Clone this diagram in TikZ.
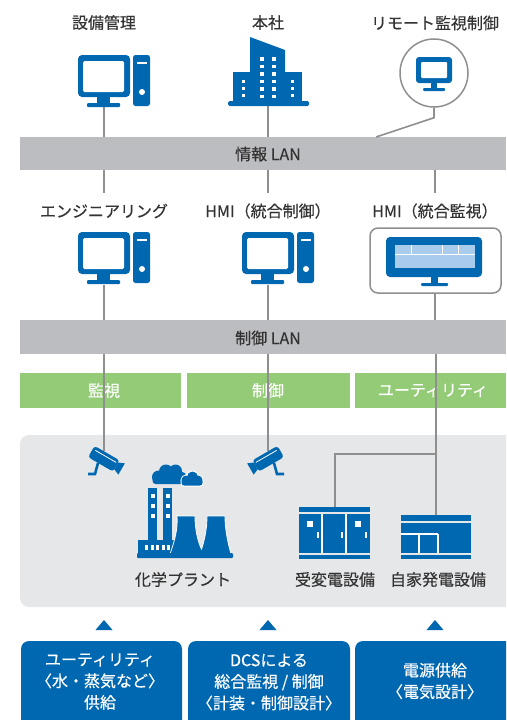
\documentclass[tikz,border=0pt]{standalone}
\usepackage{fontspec}
\newfontfamily\jpfont[FakeBold=0.4]{Noto Sans CJK JP}
\usetikzlibrary{calc}
\definecolor{brand}{HTML}{0067B1}
\definecolor{screen}{HTML}{A9CCEC}
\definecolor{langray}{HTML}{BCBDC0}
\definecolor{leaf}{HTML}{93CB77}
\definecolor{panel}{HTML}{E6E7E8}
\definecolor{linegray}{HTML}{8F8F8F}
\definecolor{ink}{HTML}{333333}
\begin{document}
\begin{tikzpicture}[x=1pt,y=-1pt,
  font=\jpfont\fontsize{16}{21.5}\selectfont,
  link/.style={draw=linegray, line width=1.6pt},
  iconbox/.style={inner sep=0pt, outer sep=0pt, draw=none},
  lbl/.style={text=ink, inner sep=0pt},
  midlbl/.style={text=ink, inner sep=0pt, minimum height=36pt},
  lanbar/.style={fill=langray, inner sep=0pt, outer sep=0pt, minimum height=34pt, minimum width=486pt},
  greenbar/.style={fill=leaf, inner sep=0pt, outer sep=0pt, minimum height=35pt},
  bartext/.style={text=white, inner sep=0pt},
  bluebox/.style={fill=brand, rounded corners=8pt, inner sep=0pt, outer sep=0pt, anchor=north west},
  boxtext/.style={text=white, align=center, inner sep=0pt},
  pc/.pic={
    \fill[brand, rounded corners=4pt] (-26,0) rectangle (26,42);
    \fill[white, rounded corners=1.5pt] (-21,6) rectangle (20,37);
    \fill[brand] (-7,42) rectangle (6,48);
    \fill[brand, rounded corners=1pt] (-17,48) rectangle (16,52);
    \fill[brand, rounded corners=2.5pt] (29,0) rectangle (46,51);
    \fill[white] (33,7) rectangle (43,9);
    \fill[white] (38,37) circle (3pt);
  },
  camera/.pic={
    \begin{scope}[shift={(2,10)}, rotate=-30]
      \fill[brand, rounded corners=3pt] (-17,-6.5) rectangle (12,6.5);
      \draw[white, line width=0.8pt] (-14,-3) -- (10,-3);
      \fill[brand] (12,-4) -- (18,-6.5) -- (18,6.5) -- (12,4) -- cycle;
    \end{scope}
    \draw[brand, line width=2.6pt] (-6,13) -- (-9,24) -- (-16,24);
  }
]
\useasboundingbox (0,0) rectangle (506,720);

% ---------- background panel and bottom boxes ----------
\begin{scope}
  \clip (0,0) rectangle (506,720);
  \fill[panel, rounded corners=9pt] (20,435) rectangle (530,607);
  \node[bluebox, minimum width=161pt, minimum height=90pt] (boxU) at (21,641) {};
  \node[bluebox, minimum width=162pt, minimum height=90pt] (boxD) at (188,641) {};
  \node[bluebox, minimum width=170pt, minimum height=90pt] (boxE) at (355,641) {};
\end{scope}

% ---------- network bars ----------
\node[lanbar, minimum height=33pt] (infoLAN) at (263,153.5) {};
\node[lbl] (infoLANtext) at (268,154) {情報 LAN};
\node[lanbar] (ctrlLAN) at (263,337) {};
\node[lbl] (ctrlLANtext) at (268,338) {制御 LAN};

\node[greenbar, minimum width=161pt] (monBar) at (100.5,390.5) {};
\node[greenbar, minimum width=163pt] (ctlBar) at (268.5,390.5) {};
\node[greenbar, minimum width=151pt] (utlBar) at (430.5,390.5) {};
\node[bartext] (monText) at (104,390.5) {監視};
\node[bartext] (ctlText) at (268,390.5) {制御};
\node[bartext] (utlText) at (433,390.5) {ユーティリティ};

% ---------- labels ----------
\node[lbl] (lblFac) at (104,22.5) {設備管理};
\node[lbl] (lblHQ) at (268,22.5) {本社};
\node[lbl] (lblRemote) at (435,23) {リモート監視制御};
\node[midlbl] (lblEng) at (104,211) {エンジニアリング};
\node[midlbl] (lblHMIc) at (268,211) {HMI（統合制御）};
\node[midlbl] (lblHMIm) at (435,211) {HMI（統合監視）};
\node[lbl] (lblPlant) at (183,579.5) {化学プラント};
\node[lbl] (lblSub) at (335,579.5) {受変電設備};
\node[lbl] (lblGen) at (438,579.5) {自家発電設備};

% ---------- icon anchors ----------
\node[iconbox, minimum width=52pt, minimum height=52pt] (pcFac) at (104,81) {};
\node[iconbox, minimum width=81pt, minimum height=69pt] (hq) at (268,71.5) {};
\node[circle, draw=linegray, line width=1.5pt, minimum size=68pt, inner sep=0pt] (remote) at (434,73) {};
\node[iconbox, minimum width=52pt, minimum height=53pt] (pcEng) at (104,258.5) {};
\node[iconbox, minimum width=52pt, minimum height=53pt] (pcHMI) at (268,258.5) {};
\node[draw=linegray, line width=1.5pt, rounded corners=8pt, minimum width=131pt, minimum height=65pt, inner sep=0pt] (hmiBox) at (435.5,260.5) {};
\node[iconbox, minimum width=30pt, minimum height=24pt] (camA) at (104,463) {};
\node[iconbox, minimum width=30pt, minimum height=24pt] (camB) at (268,463) {};
\node[iconbox, minimum width=71pt, minimum height=52pt] (sub) at (335,533) {};
\node[iconbox, minimum width=70pt, minimum height=44pt] (gen) at (436,537) {};

% ---------- connectors ----------
\draw[link] (pcFac.south) -- (pcFac.south |- infoLAN.north);
\draw[link] (hq.south) -- (hq.south |- infoLAN.north);
\coordinate (rjoin) at (376,137);
\draw[link] (remote.south) -- ++(0,10) -- (rjoin);
\draw[link] (infoLAN.south -| lblEng) -- (lblEng.north);
\draw[link] (infoLAN.south -| lblHMIc) -- (lblHMIc.north);
\draw[link] (infoLAN.south -| lblHMIm) -- (lblHMIm.north);
\draw[link] (pcEng.south) -- (pcEng.south |- ctrlLAN.north);
\draw[link] (pcHMI.south) -- (pcHMI.south |- ctrlLAN.north);
\draw[link] (hmiBox.south -| lblHMIm) -- (lblHMIm |- ctrlLAN.north);
\draw[link] (ctrlLAN.south -| camA) -- (camA.north);
\draw[link] (ctrlLAN.south -| camB) -- (camB.north);
\draw[link] (ctrlLAN.south -| gen) -- (gen.north);
\coordinate (split) at (436,454);
\draw[link] (split) -| (sub.north);

% ---------- computers ----------
\pic at (104,55) {pc};
\pic at (104,232) {pc};
\pic at (268,232) {pc};

% ---------- head office building ----------
\fill[brand] (250,37) -- (285,50) -- (285,103) -- (250,103) -- cycle;
\fill[brand] (233,72) rectangle (250,103);
\fill[brand] (285,72) rectangle (302,103);
\fill[brand, rounded corners=1.5pt] (228,101) rectangle (309,106);
\foreach \wy in {57,64.5,72,79.5,87,94.5} {
  \fill[white] (259.5,\wy) rectangle (263.5,\wy+3.5);
  \fill[white] (271.5,\wy) rectangle (275.5,\wy+3.5);
}
\foreach \wy in {80,87,94} {
  \fill[white] (241.5,\wy) rectangle (244.5,\wy+3);
  \fill[white] (291,\wy) rectangle (294,\wy+3);
}

% ---------- remote terminal ----------
\fill[brand, rounded corners=3pt] (416,57) rectangle (452,83);
\fill[white, rounded corners=1pt] (421,62) rectangle (447,78);
\fill[brand] (431,83) rectangle (437,88);
\fill[brand, rounded corners=1pt] (423,88) rectangle (445,91);

% ---------- HMI wide monitor ----------
\fill[brand, rounded corners=4pt] (386,237) rectangle (482,277);
\fill[screen] (395,245) rectangle (475,268);
\draw[white, line width=1pt] (395,254) -- (475,254);
\draw[white, line width=1pt] (411,245) -- (411,254) (442,245) -- (442,254) (458,245) -- (458,254);
\fill[brand] (431,277) rectangle (438,283);
\fill[brand, rounded corners=1pt] (421,283) rectangle (448,286);

% ---------- cameras ----------
\pic at (104,450) {camera};
\pic[xscale=-1] at (268,450) {camera};

% ---------- chemical plant ----------
% smoke
\fill[brand] (158.5,477) circle (6.5pt) (166,471.5) circle (7pt) (175.5,471) circle (6.5pt) (181,477) circle (5.5pt);
\fill[brand, rounded corners=3pt] (152.5,475) rectangle (185.5,484);
\fill[white] (186,480) circle (5.5pt) (192.5,477) circle (6.5pt) (198,480) circle (5.5pt);
\fill[white, rounded corners=3pt] (180.5,478) rectangle (203.5,486.5);
\fill[brand] (186,480) circle (4.5pt) (192.5,477) circle (5.5pt) (198,480) circle (4.5pt);
\fill[brand, rounded corners=2.5pt] (181.5,479) rectangle (202.5,485.5);
% chimneys
\fill[brand] (148,488) rectangle (157,541);
\fill[brand] (163,488) rectangle (172,541);
\foreach \wy in {494,504,514} {
  \fill[white] (150.5,\wy) rectangle (154.5,\wy+3.5);
  \fill[white] (165.5,\wy) rectangle (169.5,\wy+3.5);
}
% low building
\fill[brand] (138,540) rectangle (182,554);
\foreach \wx in {145,150.5,156,161.5,167} {
  \fill[white] (\wx,545) rectangle (\wx+3,550);
}
% cooling towers
\filldraw[fill=brand, draw=white, line width=0.8pt]
  (170,554) .. controls (175,540) and (178,528) .. (177,516) -- (195,516)
  .. controls (195,530) and (198,542) .. (201.5,549)
  .. controls (204,542) and (207,530) .. (207,516) -- (225,516)
  .. controls (225,530) and (228,543) .. (231,554) -- cycle;
\fill[brand, rounded corners=1pt] (137,553) rectangle (233,558);

% ---------- substation ----------
\fill[brand] (299,507) rectangle (370,512);
\fill[brand] (299,514) rectangle (370,553);
\fill[brand] (299,555) rectangle (370,559);
\draw[white, line width=1.2pt] (322,514) -- (322,553) (346,514) -- (346,553);
\fill[white] (307,521) rectangle (313,527);
\fill[white] (355,521) rectangle (361,527);
\draw[white, line width=1.2pt] (318,532) -- (318,538) (342,532) -- (342,538) (366,532) -- (366,538);

% ---------- private power plant ----------
\fill[brand] (401,515) rectangle (471,521);
\fill[brand] (401,523) rectangle (471,553);
\fill[brand] (401,555) rectangle (471,559);
\draw[white, line width=1.2pt] (401,534) -- (438,534) (419,534) -- (419,553) (438,534) -- (438,553);

% ---------- supply arrows ----------
\foreach \ax in {104,268,435} {
  \fill[brand] (\ax-8.5,630) -- (\ax+8.5,630) -- (\ax,620) -- cycle;
}

% ---------- box texts ----------
\node[boxtext] (txtU) at (100,681.5) {ユーティリティ\\〈水・蒸気など〉\\供給};
\node[boxtext] (txtD) at (269,682) {DCSによる\\総合監視 / 制御\\〈計装・制御設計〉};
\node[boxtext] (txtE) at (435,681) {電源供給\\〈電気設計〉};
\end{tikzpicture}
\end{document}
